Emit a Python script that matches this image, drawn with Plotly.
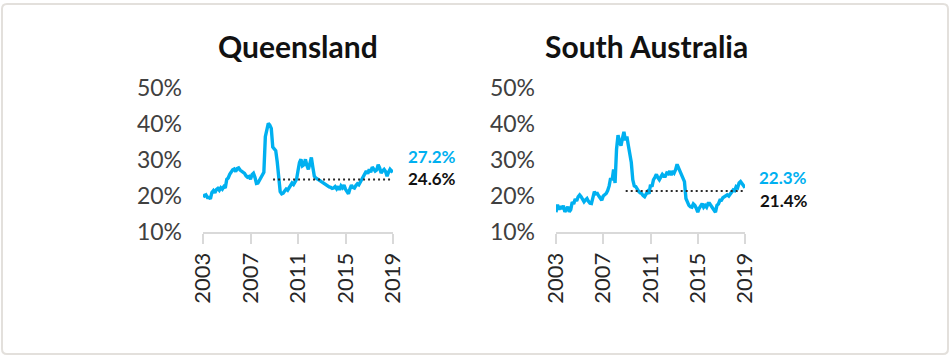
import plotly.graph_objects as go

W, H = 952, 362

# ---------------- data ----------------
# sample dates: every 1/8 of a year from 2003.0 to 2019.0
dates = [2003 + i / 8 for i in range(129)]

qld_values = [
    20.4, 20.0, 20.3, 19.6, 19.6, 19.2, 21.0, 21.5,   # 2003
    20.9, 21.8, 22.1, 21.6, 22.3, 21.9, 22.6, 22.2,   # 2004
    24.6, 25.0, 26.0, 26.8, 27.3, 27.5, 26.8, 27.6,   # 2005
    27.8, 27.2, 26.9, 26.5, 26.3, 25.6, 25.2, 25.4,   # 2006
    24.7, 25.9, 26.3, 25.2, 23.5, 23.6, 24.4, 25.0,   # 2007
    25.8, 26.6, 36.5, 38.5, 40.2, 39.7, 38.8, 33.6,   # 2008
    33.0, 32.6, 29.5, 24.0, 21.2, 20.6, 20.8, 21.4,   # 2009
    21.9, 21.6, 22.4, 22.9, 23.6, 23.2, 24.0, 24.6,   # 2010
    27.0, 29.3, 30.2, 28.4, 28.7, 30.2, 28.5, 27.4,   # 2011
    29.0, 30.7, 28.0, 25.5, 25.0, 24.8, 24.5, 24.2,   # 2012
    23.9, 23.6, 23.3, 23.1, 22.8, 22.5, 22.4, 22.1,   # 2013
    22.2, 22.6, 22.0, 22.7, 21.7, 22.8, 22.3, 23.0,   # 2014
    21.9, 21.3, 20.6, 22.0, 23.0, 22.4, 22.2, 22.9,   # 2015
    23.4, 23.1, 23.9, 24.5, 25.1, 25.8, 26.9, 26.2,   # 2016
    27.4, 26.6, 28.0, 27.5, 26.9, 27.2, 28.7, 27.8,   # 2017
    26.4, 27.0, 27.4, 26.8, 25.5, 26.6, 27.4, 26.9,   # 2018
    27.2,                                             # 2019
]

sa_values = [
    15.5, 17.6, 16.2, 17.2, 16.4, 17.3, 15.6, 16.6,   # 2003
    17.0, 15.6, 16.2, 18.3, 17.8, 19.2, 18.6, 19.8,   # 2004
    20.3, 19.8, 19.0, 18.4, 18.9, 19.3, 18.5, 18.0,   # 2005
    17.9, 19.5, 21.2, 20.6, 20.7, 20.0, 19.3, 18.8,   # 2006
    20.0, 20.4, 20.7, 21.5, 22.8, 25.0, 24.4, 27.4,   # 2007
    23.6, 33.0, 36.9, 35.2, 34.0, 36.0, 37.8, 35.5,   # 2008
    36.5, 34.0, 31.0, 29.3, 24.5, 22.8, 22.6, 21.7,   # 2009
    21.3, 20.9, 20.7, 20.1, 19.8, 20.5, 21.2, 20.6,   # 2010
    23.1, 22.6, 24.5, 25.2, 26.0, 25.1, 24.5, 25.3,   # 2011
    26.0, 25.5, 25.5, 26.4, 26.2, 26.9, 25.8, 26.9,   # 2012
    26.4, 27.3, 28.8, 27.8, 26.9, 26.0, 25.3, 24.0,   # 2013
    19.3, 18.2, 17.4, 17.0, 16.9, 17.8, 17.4, 16.6,   # 2014
    15.5, 16.6, 17.4, 17.9, 16.9, 17.4, 16.9, 17.9,   # 2015
    17.9, 17.2, 16.9, 16.0, 15.5, 17.4, 17.8, 18.8,   # 2016
    18.8, 19.5, 19.8, 20.1, 20.3, 20.0, 20.7, 21.0,   # 2017
    21.7, 21.5, 22.6, 22.3, 23.6, 24.0, 23.4, 22.8,   # 2018
    22.3,                                             # 2019
]

# post-2009 averages (dotted reference lines)
avg_start_end = [2008.9, 2019.0]
qld_avg = 24.6
sa_avg = 21.4
qld_latest = 27.2
sa_latest = 22.3

titles = ["Queensland", "South Australia"]
x_ticks = [2003, 2007, 2011, 2015, 2019]
x_tick_labels = ["2003", "2007", "2011", "2015", "2019"]
y_ticks = [10, 20, 30, 40, 50]
y_tick_labels = ["10%", "20%", "30%", "40%", "50%"]

# ---------------- styling ----------------
BLUE = "#00B0F0"
FONT = "Lato, Carlito, 'Open Sans', sans-serif"


def px_x(p):
    return p / W


def px_y(p):
    return 1 - p / H


fig = go.Figure()

series = [qld_values, sa_values]
avgs = [qld_avg, sa_avg]
for i, vals in enumerate(series):
    xa = "x" if i == 0 else "x2"
    ya = "y" if i == 0 else "y2"
    fig.add_trace(go.Scatter(x=dates, y=vals, mode="lines",
                             line=dict(color=BLUE, width=3.4),
                             xaxis=xa, yaxis=ya, showlegend=False))
    fig.add_trace(go.Scatter(x=avg_start_end, y=[avgs[i], avgs[i]], mode="lines",
                             line=dict(color="#2b2b2b", width=2, dash="2px,3px"),
                             xaxis=xa, yaxis=ya, showlegend=False, hoverinfo="skip"))

x_domains = [[px_x(203), px_x(393)], [px_x(556), px_x(745)]]
y_domain = [px_y(232), px_y(88)]

xaxis_common = dict(range=[2003, 2019], tickvals=x_ticks, ticktext=x_tick_labels,
                    tickangle=-90, showgrid=False, zeroline=False, automargin=False,
                    showline=True, linecolor="#d9d9d9", linewidth=2,
                    ticks="outside", ticklen=10, tickwidth=2, tickcolor="#d9d9d9",
                    tickfont=dict(family=FONT, size=22, color="#262626"),
                    ticklabelstandoff=0, fixedrange=True)
yaxis_common = dict(range=[10, 50], tickvals=y_ticks, ticktext=y_tick_labels,
                    showgrid=False, zeroline=False, showline=False, ticks="",
                    automargin=False,
                    tickfont=dict(family=FONT, size=23, color="#404040"),
                    ticklabelstandoff=20, fixedrange=True)

fig.update_layout(
    template="none",
    width=W, height=H,
    margin=dict(l=0, r=0, t=0, b=0, pad=0),
    paper_bgcolor="white", plot_bgcolor="white",
    xaxis=dict(domain=x_domains[0], anchor="y", **xaxis_common),
    yaxis=dict(domain=y_domain, anchor="x", **yaxis_common),
    xaxis2=dict(domain=x_domains[1], anchor="y2", **xaxis_common),
    yaxis2=dict(domain=y_domain, anchor="x2", **yaxis_common),
)


# card border (rounded rectangle, pixel coords converted to paper coords)
def rounded_rect(x0, y0, x1, y1, r):
    def P(x, y):
        return f"{px_x(x)},{px_y(y)}"
    return (f"M {P(x0 + r, y0)} L {P(x1 - r, y0)} Q {P(x1, y0)} {P(x1, y0 + r)} "
            f"L {P(x1, y1 - r)} Q {P(x1, y1)} {P(x1 - r, y1)} L {P(x0 + r, y1)} "
            f"Q {P(x0, y1)} {P(x0, y1 - r)} L {P(x0, y0 + r)} Q {P(x0, y0)} {P(x0 + r, y0)} Z")


fig.add_shape(type="path", xref="paper", yref="paper", path=rounded_rect(2, 4, 948, 354, 5),
              line=dict(color="#e3e0dc", width=2), fillcolor="rgba(0,0,0,0)", layer="below")

# titles
for cx, t in zip([298, 646], titles):
    fig.add_annotation(x=px_x(cx), y=px_y(46), xref="paper", yref="paper", text=f"<b>{t}</b>",
                       showarrow=False, xanchor="center", yanchor="middle",
                       font=dict(family=FONT, size=30, color="#111111"))

# value labels
labels = [
    (406, 157, f"{qld_latest:.1f}%", BLUE),
    (406, 178, f"{qld_avg:.1f}%", "#111111"),
    (757, 177, f"{sa_latest:.1f}%", BLUE),
    (758, 200, f"{sa_avg:.1f}%", "#111111"),
]
for lx, ly, txt, col in labels:
    fig.add_annotation(x=px_x(lx), y=px_y(ly), xref="paper", yref="paper", text=f"<b>{txt}</b>",
                       showarrow=False, xanchor="left", yanchor="middle",
                       font=dict(family=FONT, size=17, color=col))

fig.write_html("out.html", config={"displayModeBar": False},
               post_script="document.body.style.margin='0';")
